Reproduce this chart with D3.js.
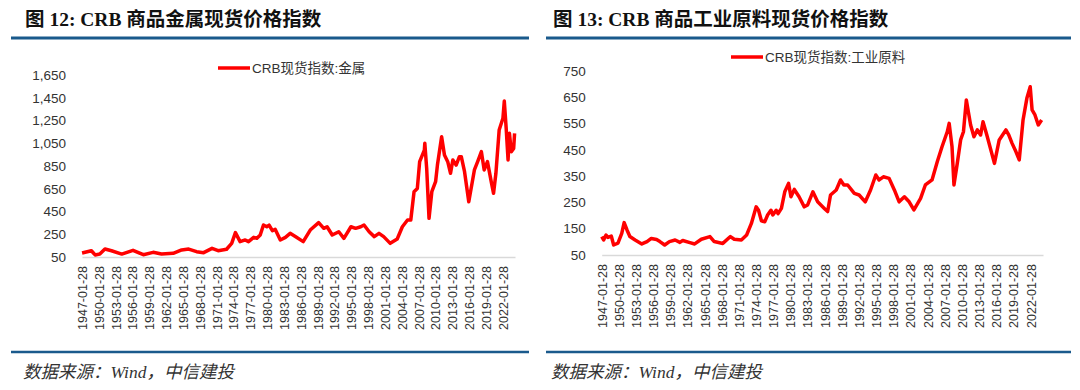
<!DOCTYPE html>
<html><head><meta charset="utf-8">
<script src="https://cdn.jsdelivr.net/npm/d3@7"></script>
<style>
body{margin:0;background:#fff;}
svg{display:block;}
</style></head>
<body>
<svg id="chart" width="1080" height="390"></svg>
<script>
// ---------- data ----------
const tickDates = ["1947-01-28","1950-01-28","1953-01-28","1956-01-28","1959-01-28","1962-01-28","1965-01-28","1968-01-28","1971-01-28","1974-01-28","1977-01-28","1980-01-28","1983-01-28","1986-01-28","1989-01-28","1992-01-28","1995-01-28","1998-01-28","2001-01-28","2004-01-28","2007-01-28","2010-01-28","2013-01-28","2016-01-28","2019-01-28","2022-01-28"];

const metalTicks = [50,250,450,650,850,1050,1250,1450,1650];
const indTicks = [50,150,250,350,450,550,650,750];

const metalDates = ["1947-02","1948-10","1949-06","1950-04","1951-03","1952-05","1954-03","1956-03","1958-01","1959-10","1961-04","1963-05","1964-11","1966-02","1967-07","1968-10","1970-04","1971-05","1972-11","1973-10","1974-06","1975-04","1976-03","1976-10","1977-09","1978-04","1978-11","1979-06","1980-01","1980-06","1981-01","1981-07","1982-06","1983-05","1984-03","1985-02","1986-07","1987-10","1989-04","1990-03","1990-10","1991-09","1992-11","1993-10","1995-01","1995-11","1996-10","1997-05","1998-04","1999-03","2000-01","2000-11","2002-01","2003-04","2004-03","2005-02","2005-09","2006-04","2006-11","2007-04","2008-02","2008-03","2008-07","2008-12","2009-06","2010-02","2010-06","2011-03","2011-09","2012-04","2012-10","2013-03","2013-10","2014-05","2014-09","2015-04","2016-01","2017-01","2017-08","2018-04","2018-10","2019-05","2020-01","2020-06","2020-11","2021-06","2022-02","2022-05","2022-09","2023-01","2023-04","2023-08","2024-01","2024-03"];
const metalValues = [85,105,68,76,120,105,76,109,70,91,76,82,112,120,97,88,126,105,118,170,264,185,200,185,223,215,243,331,316,330,281,293,200,223,258,230,185,287,352,302,316,243,272,214,316,302,316,331,272,229,258,229,170,208,316,375,375,624,653,888,990,1050,830,390,624,712,858,1108,947,888,786,903,858,932,932,800,536,815,888,976,815,888,712,610,786,1166,1269,1421,1181,903,1137,976,1005,1137];

const indDates = ["1947-02","1947-06","1947-11","1948-03","1948-10","1949-03","1949-12","1950-08","1951-01","1951-07","1952-01","1952-12","1954-02","1955-01","1955-10","1956-09","1957-04","1958-02","1958-12","1959-12","1960-10","1961-04","1962-07","1963-05","1964-07","1966-01","1966-10","1968-04","1969-08","1970-04","1971-07","1972-06","1973-04","1974-02","1974-07","1975-01","1975-08","1976-02","1976-09","1977-01","1977-08","1977-12","1978-07","1979-02","1979-10","1980-03","1980-10","1981-08","1982-07","1983-02","1984-01","1984-11","1986-01","1986-08","1987-02","1988-02","1988-11","1989-06","1990-02","1991-04","1992-02","1993-03","1994-02","1995-01","1995-08","1996-05","1997-05","1998-04","1999-02","2000-01","2000-11","2001-09","2002-11","2003-09","2004-11","2005-10","2006-08","2007-07","2007-11","2008-05","2008-09","2009-04","2009-11","2010-05","2010-11","2011-08","2012-03","2012-10","2013-05","2013-10","2014-06","2015-10","2016-08","2017-10","2018-04","2018-11","2019-07","2020-02","2020-10","2021-06","2022-01","2022-05","2022-11","2023-06","2024-01"];
const indValues = [120,107,126,117,122,88,95,132,173,145,120,107,92,101,113,109,101,88,101,107,98,105,97,92,110,120,101,94,120,110,107,126,170,233,220,180,176,202,220,202,220,207,227,290,322,271,299,271,233,240,290,252,227,215,278,297,335,316,316,284,278,252,297,354,335,347,341,297,252,271,252,221,265,316,335,404,461,518,550,461,316,398,487,518,639,544,499,525,506,556,506,398,487,525,506,474,443,411,563,645,689,601,582,544,563];

// ---------- drawing ----------
const svg = d3.select("#chart");
const parseDay = d3.timeParse("%Y-%m-%d");
const parseMonth = d3.timeParse("%Y-%m");
const fmtTick = d3.timeFormat("%Y-%m-%d");
const BLUE = "#1a5a8c";

function panel(cfg){
  const g = svg.append("g");
  // title
  g.append("text").attr("x", cfg.titleX).attr("y", 26)
    .attr("font-family", "'Liberation Serif','Noto Sans CJK SC',serif")
    .attr("font-weight", "bold").attr("font-size", "19.5px").attr("fill", "#111")
    .text(cfg.title);
  g.append("line").attr("x1", cfg.ruleX0).attr("x2", cfg.ruleX1).attr("y1", 38).attr("y2", 38)
    .attr("stroke", BLUE).attr("stroke-width", 3);
  g.append("line").attr("x1", cfg.ruleX0).attr("x2", cfg.ruleX1).attr("y1", 352).attr("y2", 352)
    .attr("stroke", BLUE).attr("stroke-width", 2.5);
  g.append("text").attr("x", cfg.titleX - 2).attr("y", 378)
    .attr("font-family", "'Liberation Serif','Noto Sans CJK SC',serif")
    .attr("font-style", "italic").attr("font-size", "17.5px").attr("fill", "#333")
    .text("数据来源：Wind，中信建投");

  const x = d3.scaleTime()
    .domain([parseDay("1947-01-28"), parseDay("2024-03-28")])
    .range([cfg.x0, cfg.x1]);
  const y = d3.scaleLinear().domain(cfg.yDomain).range([cfg.yBottom, cfg.yTop]);

  // y labels
  const ya = g.append("g").attr("transform", `translate(${cfg.x0 - 16},0)`)
    .call(d3.axisLeft(y).tickValues(cfg.yTicks).tickFormat(d3.format(",")).tickSize(0).tickPadding(0));
  ya.select(".domain").remove();
  ya.selectAll("text").attr("font-family", "'Liberation Sans',Arial,sans-serif")
    .attr("font-size", "13.5px").attr("fill", "#333");

  // x axis baseline + labels
  const xa = g.append("g").attr("transform", `translate(0,${cfg.yBottom})`)
    .call(d3.axisBottom(x).tickValues(tickDates.map(parseDay)).tickFormat(fmtTick).tickSize(0));
  xa.select(".domain").attr("stroke", "#d9d9d9").attr("stroke-width", 1.5);
  xa.selectAll("text")
    .attr("font-family", "'Liberation Sans',Arial,sans-serif")
    .attr("font-size", "12.5px").attr("fill", "#333")
    .attr("transform", "rotate(-90)")
    .attr("text-anchor", "end")
    .attr("x", -9).attr("y", 0).attr("dy", "0.35em");

  // line
  const data = cfg.dates.map((d,i)=>({d: parseMonth(d), v: cfg.values[i]}));
  g.append("path").datum(data)
    .attr("fill", "none").attr("stroke", "#ff0000").attr("stroke-width", 3.5)
    .attr("stroke-linejoin", "round")
    .attr("d", d3.line().x(p=>x(p.d)).y(p=>y(p.v)));

  // legend
  g.append("line").attr("x1", cfg.legX).attr("x2", cfg.legX + 32)
    .attr("y1", cfg.legY).attr("y2", cfg.legY).attr("stroke", "#ff0000").attr("stroke-width", 3.5);
  g.append("text").attr("x", cfg.legX + 34).attr("y", cfg.legY).attr("dy", "0.35em")
    .attr("font-family", "'Liberation Sans','Noto Sans CJK SC',sans-serif")
    .attr("font-size", "13.5px").attr("fill", "#333")
    .text(cfg.legend);
}

panel({
  title: "图 12: CRB 商品金属现货价格指数", titleX: 25, ruleX0: 11, ruleX1: 529,
  x0: 82, x1: 515, yTop: 75, yBottom: 257, yDomain: [50, 1650], yTicks: metalTicks,
  dates: metalDates, values: metalValues, legX: 218, legY: 68, legend: "CRB现货指数:金属"
});
panel({
  title: "图 13: CRB 商品工业原料现货价格指数", titleX: 553, ruleX0: 546, ruleX1: 1071,
  x0: 601.7, x1: 1043, yTop: 70.7, yBottom: 255, yDomain: [50, 750], yTicks: indTicks,
  dates: indDates, values: indValues, legX: 731, legY: 57, legend: "CRB现货指数:工业原料"
});
</script>
</body></html>
